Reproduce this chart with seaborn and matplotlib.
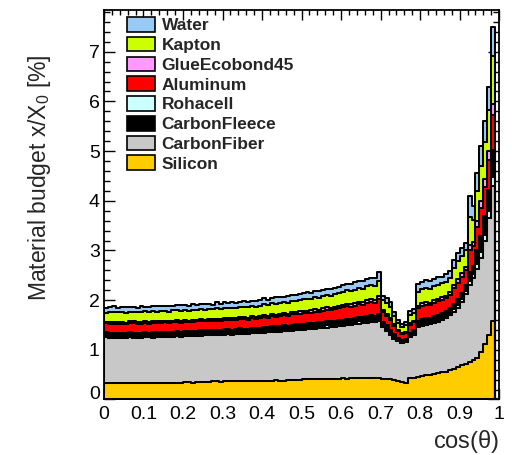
import numpy as np
import pandas as pd
import matplotlib
matplotlib.use("Agg")
import matplotlib.pyplot as plt
from matplotlib.patches import Patch
from matplotlib.ticker import MultipleLocator
from matplotlib.transforms import ScaledTranslation
import seaborn as sns

# Material budget per cos(theta) bin (bin width 0.01, 100 bins), in % of X0
silicon = [
    0.34, 0.33, 0.34, 0.34, 0.33, 0.34, 0.34, 0.34, 0.33, 0.34,
    0.34, 0.34, 0.33, 0.34, 0.34, 0.34, 0.34, 0.33, 0.34, 0.34,
    0.35, 0.35, 0.34, 0.35, 0.35, 0.35, 0.36, 0.37, 0.37, 0.36,
    0.37, 0.37, 0.37, 0.38, 0.37, 0.37, 0.38, 0.38, 0.37, 0.38,
    0.38, 0.38, 0.38, 0.39, 0.38, 0.38, 0.39, 0.39, 0.39, 0.40,
    0.41, 0.41, 0.41, 0.42, 0.41, 0.42, 0.42, 0.42, 0.41, 0.42,
    0.43, 0.42, 0.43, 0.43, 0.43, 0.43, 0.43, 0.43, 0.43, 0.43,
    0.42, 0.41, 0.41, 0.40, 0.38, 0.35, 0.34, 0.43, 0.44, 0.45,
    0.48, 0.49, 0.50, 0.52, 0.53, 0.55, 0.56, 0.60, 0.62, 0.66,
    0.69, 0.72, 0.75, 0.80, 0.84, 0.95, 1.12, 1.30, 1.58, 0.00,
]
carbon_fiber = [
    0.91, 0.91, 0.89, 0.90, 0.90, 0.90, 0.91, 0.90, 0.90, 0.90,
    0.91, 0.91, 0.91, 0.92, 0.91, 0.92, 0.92, 0.92, 0.93, 0.92,
    0.92, 0.93, 0.93, 0.93, 0.93, 0.94, 0.93, 0.93, 0.92, 0.94,
    0.93, 0.94, 0.93, 0.93, 0.95, 0.94, 0.94, 0.95, 0.96, 0.96,
    0.96, 0.97, 0.97, 0.97, 0.98, 0.99, 0.98, 0.99, 1.00, 0.99,
    0.99, 1.00, 1.01, 1.00, 1.02, 1.02, 1.02, 1.03, 1.05, 1.05,
    1.05, 1.07, 1.07, 1.08, 1.09, 1.10, 1.11, 1.12, 1.13, 1.14,
    1.03, 0.97, 0.89, 0.82, 0.79, 0.78, 0.81, 0.82, 0.86, 1.00,
    0.99, 1.00, 1.01, 1.01, 1.03, 1.05, 1.08, 1.10, 1.14, 1.18,
    1.27, 1.40, 1.55, 1.65, 1.78, 1.90, 2.08, 2.35, 2.72, 0.00,
]
rohacell = [
    0.03, 0.02, 0.03, 0.04, 0.03, 0.02, 0.03, 0.03, 0.04, 0.03,
    0.03, 0.03, 0.04, 0.02, 0.03, 0.03, 0.02, 0.04, 0.03, 0.03,
    0.03, 0.02, 0.03, 0.03, 0.04, 0.03, 0.03, 0.02, 0.04, 0.03,
    0.04, 0.03, 0.03, 0.03, 0.04, 0.03, 0.03, 0.04, 0.03, 0.03,
    0.04, 0.03, 0.04, 0.03, 0.04, 0.04, 0.03, 0.04, 0.04, 0.04,
    0.04, 0.04, 0.03, 0.04, 0.04, 0.04, 0.05, 0.04, 0.04, 0.04,
    0.04, 0.05, 0.04, 0.04, 0.05, 0.04, 0.05, 0.05, 0.04, 0.05,
    0.04, 0.04, 0.03, 0.03, 0.02, 0.02, 0.02, 0.03, 0.03, 0.04,
    0.05, 0.05, 0.04, 0.05, 0.05, 0.05, 0.04, 0.05, 0.06, 0.06,
    0.06, 0.06, 0.08, 0.07, 0.10, 0.11, 0.12, 0.14, 0.17, 0.00,
]
carbon_fleece = [
    0.07, 0.07, 0.07, 0.06, 0.07, 0.07, 0.07, 0.07, 0.06, 0.07,
    0.07, 0.06, 0.07, 0.07, 0.07, 0.07, 0.07, 0.07, 0.07, 0.07,
    0.07, 0.07, 0.07, 0.07, 0.07, 0.07, 0.07, 0.07, 0.07, 0.07,
    0.07, 0.07, 0.07, 0.07, 0.07, 0.08, 0.07, 0.07, 0.07, 0.07,
    0.08, 0.07, 0.08, 0.08, 0.08, 0.08, 0.08, 0.08, 0.08, 0.08,
    0.08, 0.08, 0.08, 0.08, 0.08, 0.08, 0.09, 0.08, 0.09, 0.09,
    0.09, 0.09, 0.09, 0.09, 0.09, 0.09, 0.10, 0.10, 0.09, 0.11,
    0.07, 0.07, 0.07, 0.06, 0.05, 0.05, 0.05, 0.06, 0.06, 0.09,
    0.10, 0.10, 0.09, 0.10, 0.10, 0.10, 0.10, 0.10, 0.11, 0.12,
    0.12, 0.12, 0.18, 0.16, 0.28, 0.34, 0.38, 0.42, 0.55, 0.00,
]
aluminum = [
    0.18, 0.19, 0.19, 0.18, 0.19, 0.18, 0.18, 0.19, 0.19, 0.18,
    0.19, 0.18, 0.19, 0.18, 0.19, 0.19, 0.18, 0.19, 0.19, 0.18,
    0.19, 0.18, 0.19, 0.19, 0.19, 0.18, 0.19, 0.19, 0.19, 0.19,
    0.19, 0.19, 0.20, 0.19, 0.19, 0.20, 0.19, 0.20, 0.19, 0.20,
    0.21, 0.20, 0.21, 0.20, 0.21, 0.21, 0.21, 0.22, 0.21, 0.22,
    0.22, 0.22, 0.22, 0.23, 0.22, 0.23, 0.23, 0.23, 0.23, 0.24,
    0.25, 0.25, 0.24, 0.25, 0.26, 0.25, 0.26, 0.27, 0.26, 0.29,
    0.20, 0.20, 0.20, 0.17, 0.13, 0.12, 0.12, 0.16, 0.16, 0.26,
    0.27, 0.27, 0.26, 0.27, 0.27, 0.26, 0.26, 0.26, 0.31, 0.33,
    0.33, 0.31, 0.45, 0.40, 0.48, 0.55, 0.58, 0.62, 0.70, 0.00,
]
glue = [
    0.03, 0.04, 0.04, 0.04, 0.04, 0.03, 0.04, 0.04, 0.04, 0.04,
    0.04, 0.04, 0.04, 0.04, 0.04, 0.04, 0.04, 0.04, 0.04, 0.04,
    0.04, 0.04, 0.04, 0.04, 0.04, 0.04, 0.04, 0.04, 0.04, 0.04,
    0.04, 0.04, 0.04, 0.04, 0.04, 0.04, 0.04, 0.04, 0.04, 0.04,
    0.04, 0.04, 0.04, 0.04, 0.04, 0.05, 0.04, 0.04, 0.04, 0.05,
    0.05, 0.04, 0.05, 0.05, 0.04, 0.05, 0.05, 0.05, 0.05, 0.05,
    0.05, 0.05, 0.05, 0.05, 0.05, 0.05, 0.05, 0.06, 0.05, 0.06,
    0.04, 0.04, 0.04, 0.03, 0.03, 0.02, 0.02, 0.03, 0.03, 0.05,
    0.05, 0.05, 0.05, 0.05, 0.05, 0.05, 0.05, 0.05, 0.06, 0.07,
    0.07, 0.06, 0.10, 0.09, 0.12, 0.14, 0.16, 0.18, 0.22, 0.00,
]
kapton = [
    0.19, 0.20, 0.21, 0.20, 0.20, 0.20, 0.20, 0.20, 0.20, 0.20,
    0.20, 0.20, 0.21, 0.20, 0.21, 0.20, 0.20, 0.21, 0.20, 0.20,
    0.20, 0.20, 0.21, 0.20, 0.20, 0.20, 0.21, 0.20, 0.21, 0.20,
    0.21, 0.20, 0.21, 0.21, 0.21, 0.21, 0.21, 0.21, 0.21, 0.21,
    0.22, 0.22, 0.22, 0.22, 0.22, 0.22, 0.22, 0.23, 0.22, 0.23,
    0.24, 0.24, 0.23, 0.24, 0.24, 0.24, 0.25, 0.24, 0.25, 0.25,
    0.26, 0.27, 0.26, 0.27, 0.27, 0.27, 0.28, 0.28, 0.28, 0.31,
    0.20, 0.21, 0.22, 0.17, 0.14, 0.12, 0.13, 0.17, 0.16, 0.28,
    0.28, 0.29, 0.28, 0.28, 0.28, 0.28, 0.28, 0.29, 0.34, 0.36,
    0.35, 0.33, 0.56, 0.45, 0.60, 0.72, 0.75, 0.82, 0.98, 0.00,
]
water = [
    0.09, 0.10, 0.12, 0.09, 0.10, 0.12, 0.09, 0.10, 0.09, 0.12,
    0.09, 0.10, 0.09, 0.12, 0.10, 0.09, 0.11, 0.09, 0.10, 0.12,
    0.10, 0.09, 0.12, 0.09, 0.10, 0.12, 0.10, 0.09, 0.12, 0.10,
    0.11, 0.10, 0.12, 0.10, 0.09, 0.12, 0.10, 0.10, 0.12, 0.11,
    0.12, 0.10, 0.11, 0.13, 0.11, 0.10, 0.13, 0.11, 0.12, 0.11,
    0.12, 0.14, 0.12, 0.13, 0.14, 0.12, 0.12, 0.14, 0.13, 0.13,
    0.14, 0.13, 0.15, 0.15, 0.14, 0.16, 0.15, 0.14, 0.16, 0.18,
    0.08, 0.10, 0.10, 0.08, 0.06, 0.06, 0.06, 0.08, 0.08, 0.15,
    0.14, 0.16, 0.15, 0.14, 0.15, 0.13, 0.15, 0.13, 0.16, 0.17,
    0.16, 0.15, 0.43, 0.28, 0.35, 0.39, 0.41, 0.47, 0.58, 0.00,
]

# Stack order, top of the stack first (seaborn puts the first hue level on top)
materials = ["Water", "Kapton", "GlueEcobond45", "Aluminum",
             "CarbonFleece", "Rohacell", "CarbonFiber", "Silicon"]
legend_order = ["Water", "Kapton", "GlueEcobond45", "Aluminum",
                "Rohacell", "CarbonFleece", "CarbonFiber", "Silicon"]
values = {
    "Water": water, "Kapton": kapton, "GlueEcobond45": glue,
    "Aluminum": aluminum, "Rohacell": rohacell, "CarbonFleece": carbon_fleece,
    "CarbonFiber": carbon_fiber, "Silicon": silicon,
}
colors = {
    "Water": "#99c9f5", "Kapton": "#ccff00", "GlueEcobond45": "#ff99ff",
    "Aluminum": "#ff0000", "Rohacell": "#ccffff", "CarbonFleece": "#000000",
    "CarbonFiber": "#c8c8c8", "Silicon": "#ffcc00",
}

n_bins = len(silicon)
centers = (np.arange(n_bins) + 0.5) / n_bins

df = pd.DataFrame({
    "cos_theta": np.tile(centers, len(materials)),
    "material": np.repeat(materials, n_bins),
    "budget": np.concatenate([values[m] for m in materials]),
})

sns.set_style("ticks")
plt.rcParams["font.family"] = ["Liberation Sans", "DejaVu Sans"]
plt.rcParams["mathtext.fontset"] = "custom"
plt.rcParams["mathtext.rm"] = "Liberation Sans"
plt.rcParams["mathtext.it"] = "Liberation Sans"

fig = plt.figure(figsize=(5.12, 4.55), dpi=100)
ax = fig.add_axes([0.203, 0.122, 0.772, 0.856])

sns.histplot(
    data=df, x="cos_theta", weights="budget", hue="material",
    hue_order=materials, palette=colors, multiple="stack",
    bins=n_bins, binrange=(0.0, 1.0), element="step", fill=True, alpha=1.0,
    edgecolor="black", linewidth=1.45, legend=False, ax=ax,
)

ax.set_xlim(0, 1)
ax.set_ylim(0, 7.84)
ax.xaxis.set_minor_locator(MultipleLocator(0.02))
ax.yaxis.set_minor_locator(MultipleLocator(0.2))
ax.set_xticks(np.round(np.arange(0, 1.01, 0.1), 1))
ax.set_xticklabels(["0", "0.1", "0.2", "0.3", "0.4", "0.5", "0.6", "0.7", "0.8", "0.9", "1"])
ax.set_yticks(range(8))
ax.set_yticklabels([str(i) for i in range(8)])

ax.tick_params(which="both", direction="in", top=True, right=True,
               width=1.0, labelsize=14, colors="black")
ax.tick_params(axis="x", which="major", length=7, pad=5)
ax.tick_params(axis="x", which="minor", length=3.5)
ax.tick_params(axis="y", which="major", length=8, pad=3)
ax.tick_params(axis="y", which="minor", length=4)
for sp in ax.spines.values():
    sp.set_linewidth(1.3)
    sp.set_color("black")

# the y-axis zero sits a little above its tick so it does not collide with the x zero
zero_lbl = ax.get_yticklabels()[0]
zero_lbl.set_transform(zero_lbl.get_transform() + ScaledTranslation(0, 5 / 72, fig.dpi_scale_trans))

ax.set_xlabel(r"cos($\theta$)", fontsize=17, loc="right")
ax.xaxis.set_label_coords(1.0, -0.072)
ax.set_ylabel(r"Material budget x/X$_0$ [%]", fontsize=16.5, loc="top")
ax.yaxis.set_label_coords(-0.13, 0.885)

handles = [Patch(facecolor=colors[m], edgecolor="black", linewidth=1.2, label=m)
           for m in legend_order]
ax.legend(handles=handles, loc="upper left", bbox_to_anchor=(0.058, 0.982),
          frameon=False, handlelength=1.62, handleheight=0.92,
          handletextpad=0.38, labelspacing=0.2, borderpad=0, borderaxespad=0,
          prop={"weight": "bold", "size": 12.5})

fig.savefig("out.png", dpi=100)
